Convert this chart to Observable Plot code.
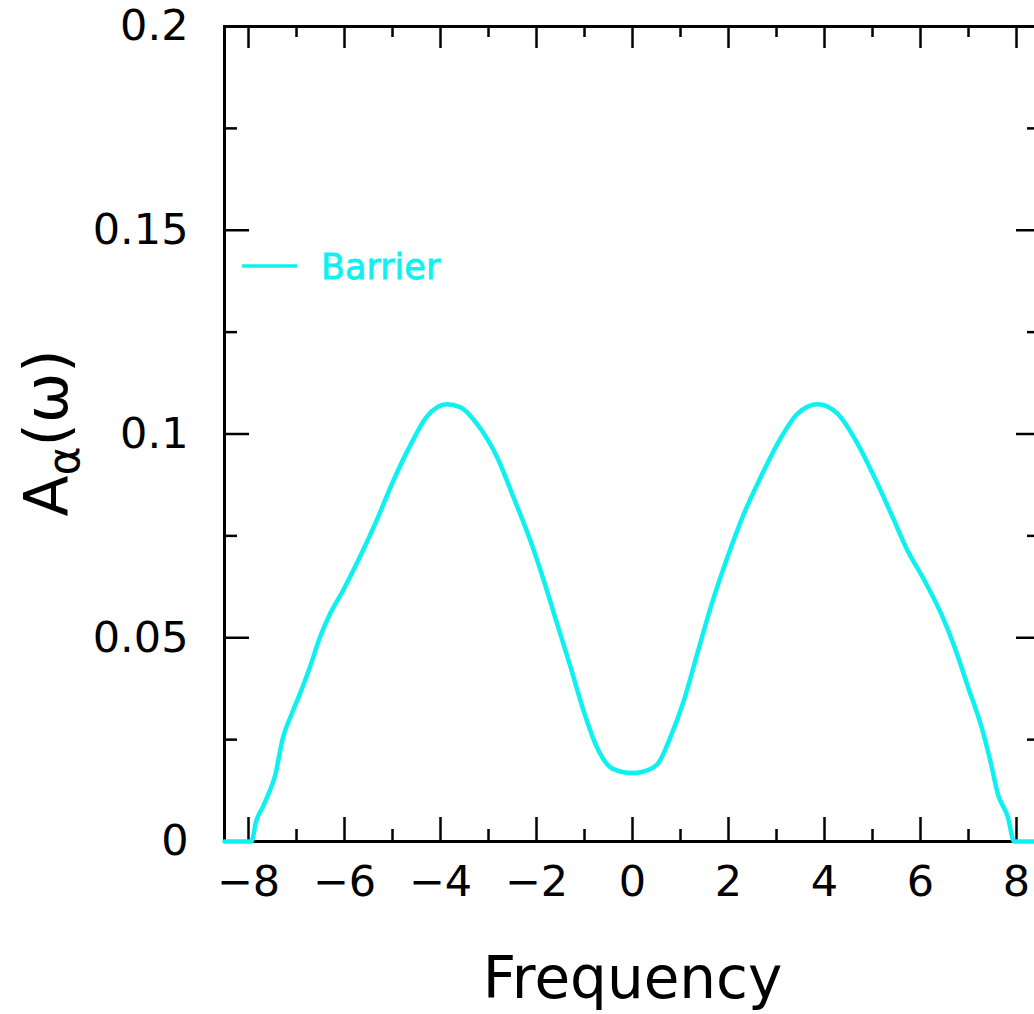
<!DOCTYPE html>
<html><head><meta charset="utf-8">
<script src="https://cdn.jsdelivr.net/npm/d3@7"></script>
<script src="https://cdn.jsdelivr.net/npm/@observablehq/plot@0.6"></script>
<style>
html,body{margin:0;padding:0;background:#fff;overflow:hidden;width:1034px;height:1014px}
svg{max-width:none !important;display:block}
</style>
</head><body><div id="chart"></div>
<script>
const freq = [-8.5, -7.94, -7.84, -7.70, -7.59, -7.45, -7.28, -7.10, -6.90, -6.72, -6.51, -6.30, -6.03, -5.68, -5.33, -4.98, -4.63, -4.29, -3.87, -3.59, -3.24, -2.82, -2.48, -2.13, -1.85, -1.57, -1.29, -1.02, -0.74, -0.46, -0.18, 0, 0.17, 0.52, 0.79, 1.07, 1.35, 1.63, 1.98, 2.32, 2.67, 3.02, 3.44, 3.86, 4.27, 4.69, 5.04, 5.39, 5.73, 6.08, 6.43, 6.71, 6.99, 7.27, 7.47, 7.61, 7.82, 7.95, 8.5];
const barrier = [0, 0, 0.0050, 0.0085, 0.0115, 0.0160, 0.0256, 0.0313, 0.0371, 0.0428, 0.0502, 0.0559, 0.0616, 0.0698, 0.0788, 0.0886, 0.0972, 0.1042, 0.1073, 0.1066, 0.1025, 0.0943, 0.0845, 0.0739, 0.0641, 0.0534, 0.0428, 0.0321, 0.0231, 0.0182, 0.0170, 0.0168, 0.0170, 0.0190, 0.0256, 0.0346, 0.0461, 0.0575, 0.0698, 0.0804, 0.0894, 0.0976, 0.1050, 0.1073, 0.1050, 0.0976, 0.0894, 0.0804, 0.0714, 0.0641, 0.0559, 0.0477, 0.0379, 0.0281, 0.0190, 0.0117, 0.0060, 0, 0];
const xMajorTicks = [-8, -6, -4, -2, 0, 2, 4, 6, 8];
const xMinorTicks = [-7, -5, -3, -1, 1, 3, 5, 7];
const yMajorTicks = [0, 0.05, 0.1, 0.15, 0.2];
const yMinorTicks = [0.025, 0.075, 0.125, 0.175];
const seriesName = "Barrier";
const xLabel = "Frequency";

const data = freq.map((f, i) => ({f, a: barrier[i]}));
const W = 1050, H = 1014, mL = 224, mT = 26, mB = 173, mR = 10;
const innerH = H - mT - mB;
const innerW = W - mL - mR;
const lineColor = "#0ff0f0";
const font = "DejaVu Sans";

const plot = Plot.plot({
  width: W, height: H,
  marginLeft: mL, marginTop: mT, marginBottom: mB, marginRight: mR,
  style: {background: "#fff", fontFamily: font, maxWidth: "none", color: "#000"},
  x: {domain: [-8.5, 8.5]},
  y: {domain: [0, 0.2]},
  marks: [
    Plot.frame({stroke: "#000", strokeWidth: 3}),
    Plot.tickX(xMajorTicks, {x: d => d, insetTop: innerH - 24, strokeWidth: 2.5}),
    Plot.tickX(xMinorTicks, {x: d => d, insetTop: innerH - 12, strokeWidth: 2.5}),
    Plot.tickX(xMajorTicks, {x: d => d, insetBottom: innerH - 22, strokeWidth: 2.5}),
    Plot.tickX(xMinorTicks, {x: d => d, insetBottom: innerH - 11, strokeWidth: 2.5}),
    Plot.tickY(yMajorTicks, {y: d => d, insetRight: innerW - 25, strokeWidth: 2.5}),
    Plot.tickY(yMinorTicks, {y: d => d, insetRight: innerW - 13, strokeWidth: 2.5}),
    Plot.tickY(yMajorTicks, {y: d => d, insetLeft: innerW - 24, strokeWidth: 2.5}),
    Plot.tickY(yMinorTicks, {y: d => d, insetLeft: innerW - 13, strokeWidth: 2.5}),
    Plot.axisX(xMajorTicks, {tickSize: 0, tickPadding: 24, fontSize: 43, label: null, fill: "#000"}),
    Plot.axisY(yMajorTicks, {tickSize: 0, tickPadding: 36, fontSize: 43, label: null, fill: "#000", tickFormat: d => String(d)}),
    Plot.text([xLabel], {frameAnchor: "bottom", dy: 156, lineAnchor: "bottom", fontSize: 58, fill: "#000", textAnchor: "middle"}),
    Plot.line(data, {x: "f", y: "a", stroke: lineColor, strokeWidth: 4.5, curve: "monotone-x"})
  ]
});
document.getElementById("chart").appendChild(plot);

const svg = d3.select(plot);
const yl = svg.append("text")
  .attr("transform", "translate(67,433) rotate(-90)")
  .attr("text-anchor", "middle")
  .attr("font-family", font)
  .attr("font-size", 60)
  .attr("fill", "#000");
yl.append("tspan").text("A");
yl.append("tspan").attr("font-size", 44).attr("dy", 12).text("α");
yl.append("tspan").attr("dy", -12).text("(ω)");

const lg = svg.append("g");
lg.append("line").attr("x1", 242).attr("x2", 297).attr("y1", 266).attr("y2", 266)
  .attr("stroke", lineColor).attr("stroke-width", 3.5);
lg.append("text").attr("x", 321).attr("y", 266).attr("dy", "0.36em")
  .attr("text-anchor", "start")
  .attr("font-family", font).attr("font-size", 35).attr("fill", lineColor)
  .attr("stroke", lineColor).attr("stroke-width", 0.8)
  .text(seriesName);
</script>
</body></html>
